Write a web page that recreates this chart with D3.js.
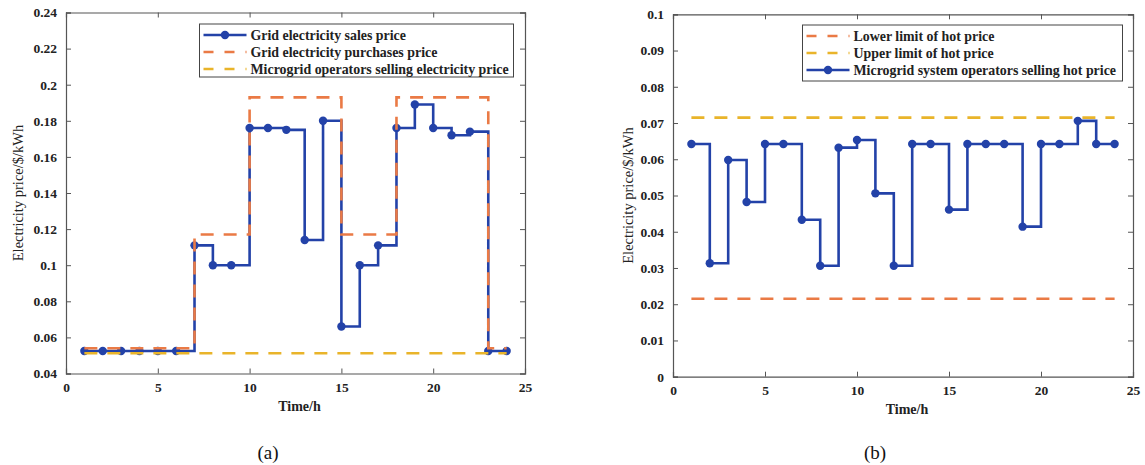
<!DOCTYPE html>
<html>
<head>
<meta charset="utf-8">
<script src="https://cdn.jsdelivr.net/npm/d3@7"></script>
<style>
  body { margin: 0; background: #fff; }
  svg text { font-family: "Liberation Serif", "Times New Roman", serif; }
</style>
</head>
<body>
<svg id="viz" width="1145" height="465"></svg>
<script>
// hours on the x axis
const hours = [1,2,3,4,5,6,7,8,9,10,11,12,13,14,15,16,17,18,19,20,21,22,23,24]

// panel (a) - electricity prices
const gridSales = [0.0525,0.0525,0.0525,0.0525,0.0525,0.0525,0.111,0.100,0.100,0.176,0.176,0.175,
                   0.114,0.180,0.066,0.100,0.111,0.176,0.189,0.176,0.172,0.174,0.0525,0.0525]
const gridPurchase = [0.054,0.054,0.054,0.054,0.054,0.054,0.117,0.117,0.117,0.193,0.193,0.193,
                      0.193,0.193,0.117,0.117,0.117,0.193,0.193,0.193,0.193,0.193,0.054,0.054]
const operatorElec = [0.0512,0.0512,0.0512,0.0512,0.0512,0.0512,0.0512,0.0512,0.0512,0.0512,0.0512,0.0512,
                      0.0512,0.0512,0.0512,0.0512,0.0512,0.0512,0.0512,0.0512,0.0512,0.0512,0.0512,0.0512]
const yTicksA = [0.04,0.06,0.08,0.1,0.12,0.14,0.16,0.18,0.2,0.22,0.24]

// panel (b) - hot prices
const hotLower = [0.0215,0.0215,0.0215,0.0215,0.0215,0.0215,0.0215,0.0215,0.0215,0.0215,0.0215,0.0215,
                  0.0215,0.0215,0.0215,0.0215,0.0215,0.0215,0.0215,0.0215,0.0215,0.0215,0.0215,0.0215]
const hotUpper = [0.0715,0.0715,0.0715,0.0715,0.0715,0.0715,0.0715,0.0715,0.0715,0.0715,0.0715,0.0715,
                  0.0715,0.0715,0.0715,0.0715,0.0715,0.0715,0.0715,0.0715,0.0715,0.0715,0.0715,0.0715]
const hotSelling = [0.0642,0.0313,0.0598,0.0482,0.0642,0.0642,0.0433,0.0306,0.0632,0.0653,0.0506,0.0306,
                    0.0642,0.0642,0.0461,0.0642,0.0642,0.0642,0.0414,0.0642,0.0642,0.0706,0.0642,0.0642]
const yTicksB = [0,0.01,0.02,0.03,0.04,0.05,0.06,0.07,0.08,0.09,0.1]

const xTicks = [0,5,10,15,20,25]

const blue = '#2342a8'
const orange = '#ea7a45'
const yellow = '#e9b42a'
const axisColor = '#555'

const svg = d3.select('#viz')

const drawPanel = (p) => {
  const x = d3.scaleLinear().domain([0, 25]).range([p.left, p.right])
  const y = d3.scaleLinear().domain(p.yDomain).range([p.bottom, p.top])
  const g = svg.append('g')

  // axes, ticks inside, box on
  const bottomAxis = d3.axisBottom(x).tickValues(xTicks).tickSize(-5).tickPadding(9).tickFormat(d3.format('d'))
  const topAxis = d3.axisTop(x).tickValues(xTicks).tickSize(-5).tickFormat('')
  const leftAxis = d3.axisLeft(y).tickValues(p.yTicks).tickSize(-5).tickPadding(9).tickFormat(d3.format('~g'))
  const rightAxis = d3.axisRight(y).tickValues(p.yTicks).tickSize(-5).tickFormat('')

  const axes = [
    g.append('g').attr('transform', `translate(0,${p.bottom})`).call(bottomAxis),
    g.append('g').attr('transform', `translate(0,${p.top})`).call(topAxis),
    g.append('g').attr('transform', `translate(${p.left},0)`).call(leftAxis),
    g.append('g').attr('transform', `translate(${p.right},0)`).call(rightAxis)
  ]
  axes.forEach(a => {
    a.selectAll('path').attr('stroke', axisColor).attr('stroke-width', 1.2)
    a.selectAll('line').attr('stroke', axisColor)
    a.selectAll('text')
      .style('font-family', '"Liberation Serif", serif')
      .style('font-size', '13.5px')
      .style('font-weight', 'bold')
      .attr('fill', '#222')
  })

  const line = d3.line()
    .x((d, i) => x(hours[i]))
    .y(d => y(d))
    .curve(d3.curveStepAfter)

  p.series.forEach(s => {
    g.append('path')
      .datum(s.values)
      .attr('d', line)
      .attr('fill', 'none')
      .attr('stroke', s.color)
      .attr('stroke-width', 2.6)
      .attr('stroke-dasharray', s.dashed ? '13,10' : null)
    if (s.markers) {
      g.selectAll(null)
        .data(s.values)
        .enter()
        .append('circle')
        .attr('cx', (d, i) => x(hours[i]))
        .attr('cy', d => y(d))
        .attr('r', 4.2)
        .attr('fill', s.color)
    }
  })

  // legend
  const lg = g.append('g')
  lg.append('rect')
    .attr('x', p.legend.x).attr('y', p.legend.y)
    .attr('width', p.legend.w).attr('height', p.legend.h)
    .attr('fill', '#fff').attr('stroke', '#444').attr('stroke-width', 1)
  p.legendOrder.forEach((s, i) => {
    const ly = p.legend.y + 11 + i * 17
    const lx = p.legend.x + 4
    lg.append('line')
      .attr('x1', lx).attr('x2', lx + 43)
      .attr('y1', ly).attr('y2', ly)
      .attr('stroke', s.color).attr('stroke-width', 2.6)
      .attr('stroke-dasharray', s.dashed ? '10,11' : null)
    if (s.markers) {
      lg.append('circle').attr('cx', lx + 21.5).attr('cy', ly).attr('r', 4.2).attr('fill', s.color)
    }
    lg.append('text')
      .attr('x', lx + 47).attr('y', ly)
      .attr('dy', '0.35em')
      .style('font-size', '13.9px')
      .style('font-weight', 'bold')
      .attr('fill', '#222')
      .text(s.name)
  })

  // labels
  g.append('text')
    .attr('x', (p.left + p.right) / 2 + 4).attr('y', p.bottom + 37)
    .attr('text-anchor', 'middle')
    .style('font-size', '14px').style('font-weight', 'bold').attr('fill', '#222')
    .text('Time/h')
  g.append('text')
    .attr('transform', `translate(${p.yLabelX},${(p.top + p.bottom) / 2}) rotate(-90)`)
    .attr('text-anchor', 'middle')
    .attr('dy', '0.35em')
    .style('font-size', '14.5px').attr('fill', '#222')
    .text('Electricity price/$/kWh')
  g.append('text')
    .attr('x', p.tagX).attr('y', 452)
    .attr('text-anchor', 'middle')
    .attr('dy', '0.35em')
    .style('font-size', '19px').attr('fill', '#111')
    .text(p.tag)
}

const salesS = { name: 'Grid electricity sales price', values: gridSales, color: blue, markers: true }
const purchS = { name: 'Grid electricity purchases price', values: gridPurchase, color: orange, dashed: true }
const operS = { name: 'Microgrid operators selling electricity price', values: operatorElec, color: yellow, dashed: true }

drawPanel({
  left: 66, right: 525, top: 12.5, bottom: 373.5,
  yDomain: [0.04, 0.24], yTicks: yTicksA,
  series: [salesS, purchS, operS],
  legendOrder: [salesS, purchS, operS],
  legend: { x: 199.5, y: 24, w: 314, h: 53 },
  yLabelX: 18, tagX: 268, tag: '(a)'
})

const lowS = { name: 'Lower limit of hot price', values: hotLower, color: orange, dashed: true }
const upS = { name: 'Upper limit of hot price', values: hotUpper, color: yellow, dashed: true }
const hotS = { name: 'Microgrid system operators selling hot price', values: hotSelling, color: blue, markers: true }

drawPanel({
  left: 673, right: 1133, top: 14.3, bottom: 376.7,
  yDomain: [0, 0.1], yTicks: yTicksB,
  series: [lowS, upS, hotS],
  legendOrder: [lowS, upS, hotS],
  legend: { x: 802.5, y: 25, w: 320, h: 56 },
  yLabelX: 628, tagX: 875, tag: '(b)'
})
</script>
</body>
</html>
